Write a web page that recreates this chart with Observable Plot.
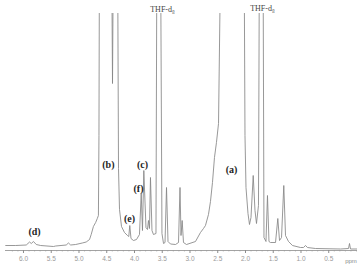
<!DOCTYPE html>
<html>
<head>
<meta charset="utf-8">
<script src="https://cdn.jsdelivr.net/npm/d3@7"></script>
<script src="https://cdn.jsdelivr.net/npm/@observablehq/plot@0.6"></script>
<style>
  html, body { margin: 0; padding: 0; background: #fff; }
  #chart { width: 362px; height: 271px; overflow: hidden; }
</style>
</head>
<body>
<div id="chart"></div>
<script>
// Chemical shift (ppm) of each traced point of the spectrum
const shift = [
  6.32, 6.14, 5.95, 5.89, 5.86, 5.82, 5.77, 5.69, 5.46, 5.42,
  5.23, 5.19, 5.15, 5.06, 4.94, 4.87, 4.81, 4.78, 4.74, 4.70,
  4.67, 4.65, 4.64, 4.63, 4.414, 4.396, 4.378, 4.306, 4.288, 4.270,
  4.234, 4.180, 4.126, 4.103, 4.085, 4.063, 4.018, 3.964, 3.910, 3.879,
  3.856, 3.832, 3.793, 3.766, 3.748, 3.730, 3.712, 3.685, 3.658, 3.613,
  3.595, 3.532, 3.505, 3.477, 3.450, 3.423, 3.396, 3.351, 3.261, 3.207,
  3.180, 3.162, 3.141, 3.117, 3.063, 2.901, 2.811, 2.757, 2.721, 2.667,
  2.631, 2.595, 2.559, 2.523, 2.486, 2.459, 2.432, 2.027, 2.009, 1.991,
  1.955, 1.928, 1.901, 1.861, 1.829, 1.802, 1.766, 1.748, 1.685, 1.667,
  1.631, 1.604, 1.577, 1.550, 1.459, 1.418, 1.387, 1.351, 1.310, 1.279,
  1.225, 1.153, 1.009, 0.955, 0.919, 0.883, 0.739, 0.288, 0.144, 0.126,
  0.108, -0.018
];
// Signal intensity (arbitrary units) at each point; tall peaks run off the top
const intensity = [
  0, 0, 0.5, 3.5, 2, 4, 1, 0, -1, -0.5,
  0.5, 2.5, 0.5, 1, 2.5, 3.5, 6, 11, 19, 23,
  27, 30, 110, 320, 320, 162, 320, 320, 77, 36,
  19, 13, 10, 9, 20, 7, 5, 6, 11, 52,
  15, 75, 18, 16, 25, 17, 68, 15, 11, 12,
  320, 320, 12, 2, 3, 58, 4, 1.5, 1, 3,
  58, 10, 25, 3, 1, 4, 13, 17, 20, 31,
  44, 63, 88, 103, 122, 240, 400, 320, 110, 58,
  32, 21, 28, 70, 35, 22, 40, 320, 320, 8,
  4, 50, 4, 3, 3, 27, 5, 8, 60, 10,
  4, 0, -2, -2, 0, -2, -3, -3.5, -3, 2,
  -3.5, -3.5
];

// Peak assignment labels
const peakLabels = ["(a)", "(b)", "(c)", "(f)", "(e)", "(d)"];
const peakLabelShift = [2.25, 4.47, 3.856, 3.928, 4.09, 5.80];
const peakLabelHeight = [76, 81, 81, 57, 27, 14];

// Solvent labels
const solventLabels = ["THF-d\u2088", "THF-d\u2088"];
const solventShift = [3.495, 1.694];
const solventHeight = [236, 237];

// Axis ticks
const majorTicks = [6.0, 5.5, 5.0, 4.5, 4.0, 3.5, 3.0, 2.5, 2.0, 1.5, 1.0, 0.5];
const minorTicks = [6.2, 6.1, 5.9, 5.8, 5.7, 5.6, 5.4, 5.3, 5.2, 5.1, 4.9, 4.8, 4.7, 4.6,
  4.4, 4.3, 4.2, 4.1, 3.9, 3.8, 3.7, 3.6, 3.4, 3.3, 3.2, 3.1, 2.9, 2.8, 2.7, 2.6,
  2.4, 2.3, 2.2, 2.1, 1.9, 1.8, 1.7, 1.6, 1.4, 1.3, 1.2, 1.1, 0.9, 0.8, 0.7, 0.6,
  0.4, 0.3, 0.2, 0.1, 0.0];
const unitLabel = "ppm";

const spectrum = shift.map((s, i) => ({ppm: s, v: intensity[i]}));
const peaks = peakLabels.map((t, i) => ({t, ppm: peakLabelShift[i], v: peakLabelHeight[i]}));
const solvents = solventLabels.map((t, i) => ({t, ppm: solventShift[i], v: solventHeight[i]}));

const serif = "'Liberation Serif', 'DejaVu Serif', 'Times New Roman', serif";
const sans = "'Liberation Sans', Arial, sans-serif";

const chart = Plot.plot({
  width: 362,
  height: 271,
  marginLeft: 5,
  marginRight: 5,
  marginTop: 13,
  marginBottom: 21,
  style: {background: "#fff", overflow: "visible"},
  x: {domain: [6.324, -0.018], axis: null},
  y: {domain: [-5, 232], axis: null},
  marks: [
    Plot.ruleY([-5], {stroke: "#8c8c8c", strokeWidth: 0.8}),
    Plot.ruleX(minorTicks, {y1: -5, y2: -6.5, stroke: "#9a9a9a", strokeWidth: 0.6}),
    Plot.axisX({
      ticks: majorTicks,
      tickSize: 3,
      tickPadding: 3,
      tickFormat: d3.format(".1f"),
      stroke: "#8c8c8c",
      fill: "#9a9a9a",
      fontSize: 6.5,
      fontFamily: sans,
      label: null
    }),
    Plot.line(spectrum, {x: "ppm", y: "v", stroke: "#858585", strokeWidth: 0.85, clip: true}),
    Plot.text(peaks, {x: "ppm", y: "v", text: "t", fontSize: 10, fontWeight: "bold",
      fontFamily: serif, fill: "#1e1e1e"}),
    Plot.text(solvents, {x: "ppm", y: "v", text: "t", fontSize: 8,
      fontFamily: serif, fill: "#444"})
  ]
});
// unit label at the right end of the axis, below it
const xs = chart.scale("x"), ys = chart.scale("y");
d3.select(chart).append("text")
  .attr("x", xs.apply(0.09))
  .attr("y", ys.apply(-5) + 13)
  .attr("text-anchor", "middle")
  .attr("font-family", sans)
  .attr("font-size", 6)
  .attr("fill", "#8a8a8a")
  .text(unitLabel);
document.getElementById("chart").appendChild(chart);
</script>
</body>
</html>
